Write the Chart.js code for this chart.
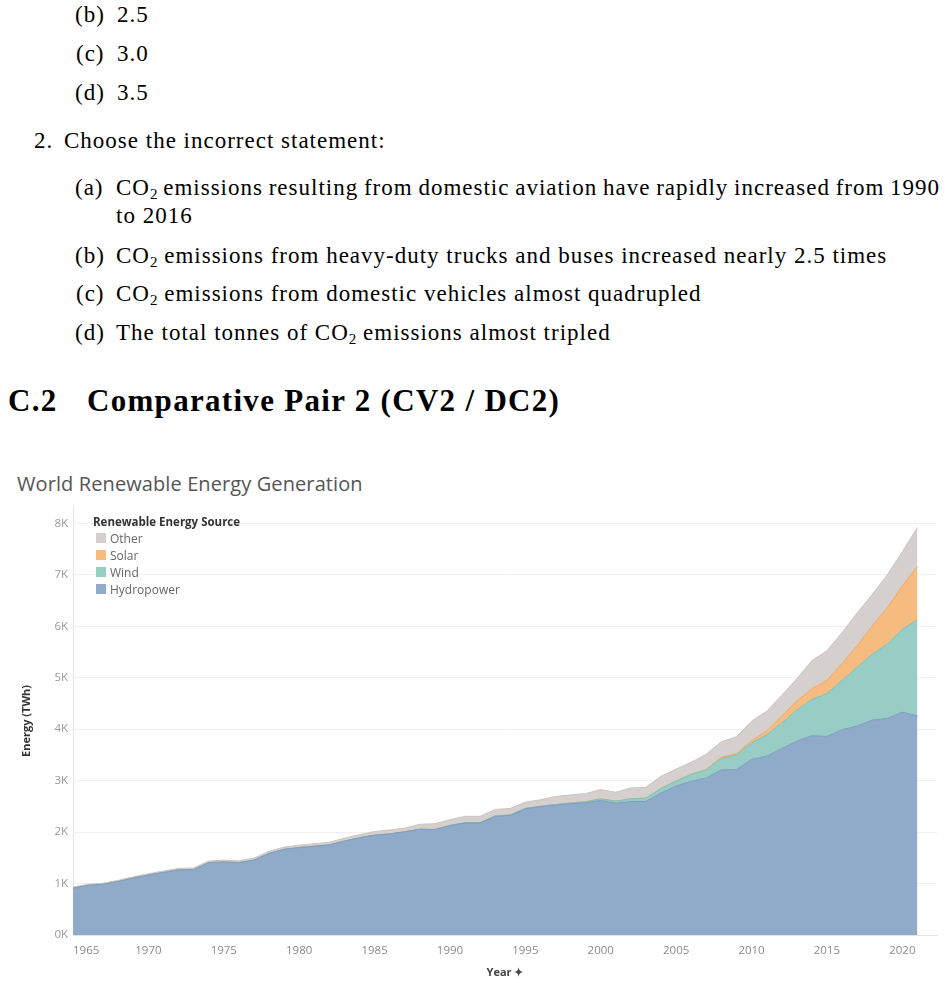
<!DOCTYPE html>
<html>
<head>
<meta charset="utf-8">
<script src="https://cdn.jsdelivr.net/npm/chart.js@4"></script>
<style>
  body { margin: 0; background: #fff; }
  #page { position: relative; width: 946px; height: 983px; overflow: hidden; background: #fff; }
  .t { position: absolute; font-family: "Liberation Serif", serif; font-size: 23px; line-height: 23px; letter-spacing: 1px; white-space: nowrap; color: #000; }
  .t sub { font-size: 15px; vertical-align: -4px; line-height: 0; letter-spacing: 0; }
  .h { font-weight: bold; font-size: 31px; line-height: 31px; letter-spacing: 1.3px; }
  #chartBox { position: absolute; left: 0; top: 495px; width: 946px; height: 488px; }
  #title { position: absolute; left: 17px; top: 470px; font-family: "Open Sans", sans-serif; font-size: 20px; letter-spacing: 0.1px; color: #555; white-space: nowrap; }
  #legend { position: absolute; left: 93px; top: 514px; font-family: "Open Sans", sans-serif; }
  #legend .lt { font-size: 11.5px; font-weight: bold; color: #333; line-height: 16px; }
  #legend .li { font-size: 12px; color: #666; line-height: 17px; height: 17px; position: relative; padding-left: 17px; }
  #legend .sw { position: absolute; left: 3px; top: 3px; width: 10px; height: 10px; }
</style>
</head>
<body>
<div id="page">
  <div class="t" style="left:75px;top:3px">(b)</div><div class="t" style="left:117px;top:3px">2.5</div>
  <div class="t" style="left:76px;top:42px">(c)</div><div class="t" style="left:117px;top:42px">3.0</div>
  <div class="t" style="left:75px;top:81px">(d)</div><div class="t" style="left:117px;top:81px">3.5</div>

  <div class="t" style="left:34px;top:129px">2.</div><div class="t" style="left:64px;top:129px">Choose the incorrect statement:</div>

  <div class="t" style="left:75px;top:176px">(a)</div><div class="t" style="left:116px;top:176px;word-spacing:-1px">CO<sub>2</sub> emissions resulting from domestic aviation have rapidly increased from 1990</div>
  <div class="t" style="left:116px;top:204px">to 2016</div>
  <div class="t" style="left:75px;top:244px">(b)</div><div class="t" style="left:116px;top:244px">CO<sub>2</sub> emissions from heavy-duty trucks and buses increased nearly 2.5 times</div>
  <div class="t" style="left:76px;top:282px">(c)</div><div class="t" style="left:116px;top:282px">CO<sub>2</sub> emissions from domestic vehicles almost quadrupled</div>
  <div class="t" style="left:75px;top:321px">(d)</div><div class="t" style="left:116px;top:321px">The total tonnes of CO<sub>2</sub> emissions almost tripled</div>

  <div class="t h" style="left:8px;top:385px">C.2</div><div class="t h" style="left:87px;top:385px">Comparative Pair 2 (CV2 / DC2)</div>

  <div id="title">World Renewable Energy Generation</div>
  <div id="chartBox"><canvas id="energyChart"></canvas></div>
  <div id="legend"></div>
</div>

<script>
// 연도 (1965 ~ 2021)
const years = [1965, 1966, 1967, 1968, 1969, 1970, 1971, 1972, 1973, 1974,
    1975, 1976, 1977, 1978, 1979, 1980, 1981, 1982, 1983, 1984,
    1985, 1986, 1987, 1988, 1989, 1990, 1991, 1992, 1993, 1994,
    1995, 1996, 1997, 1998, 1999, 2000, 2001, 2002, 2003, 2004,
    2005, 2006, 2007, 2008, 2009, 2010, 2011, 2012, 2013, 2014,
    2015, 2016, 2017, 2018, 2019, 2020, 2021];

// TWh
const hydro = [910, 965, 985, 1040, 1105, 1165, 1215, 1265, 1270, 1405,
    1420, 1405, 1455, 1585, 1665, 1700, 1725, 1750, 1825, 1890,
    1940, 1965, 2004, 2055, 2049, 2125, 2177, 2177, 2306, 2325,
    2453, 2492, 2524, 2550, 2569, 2614, 2563, 2595, 2595, 2761,
    2895, 2990, 3050, 3210, 3215, 3410, 3475, 3625, 3765, 3873,
    3860, 3990, 4060, 4175, 4210, 4330, 4260];
const wind = [0, 0, 0, 0, 0, 0, 0, 0, 0, 0,
    0, 0, 0, 0, 0, 0, 0, 0, 0, 0,
    0, 0, 0, 1, 2, 4, 4, 5, 6, 7,
    8, 10, 12, 16, 21, 31, 38, 52, 63, 85,
    95, 128, 161, 222, 285, 320, 415, 494, 605, 707,
    832, 960, 1140, 1284, 1442, 1615, 1862];
const solar = [0, 0, 0, 0, 0, 0, 0, 0, 0, 0,
    0, 0, 0, 0, 0, 0, 0, 0, 0, 0,
    0, 0, 0, 0, 0, 0, 0, 0, 0, 0,
    0, 0, 0, 0, 0, 1, 1, 2, 2, 3,
    4, 6, 8, 25, 22, 45, 77, 128, 174, 205,
    257, 321, 418, 547, 706, 835, 1041];
const other = [20, 21, 22, 24, 25, 27, 28, 30, 32, 33,
    35, 37, 39, 41, 43, 46, 49, 52, 56, 60,
    70, 77, 72, 96, 113, 112, 125, 124, 129, 128,
    121, 125, 155, 157, 159, 180, 173, 209, 211, 235,
    230, 235, 295, 300, 330, 380, 380, 410, 435, 545,
    575, 605, 640, 610, 640, 670, 757];

// 축 눈금
const xTicks = [1965, 1970, 1975, 1980, 1985, 1990, 1995, 2000, 2005, 2010, 2015, 2020];
const yTicks = [0, 1000, 2000, 3000, 4000, 5000, 6000, 7000, 8000];

const seriesNames = ["Hydropower", "Wind", "Solar", "Other"];
const seriesValues = [hydro, wind, solar, other];
const fillColors = ["#8fabc9", "#98cdc6", "#f6bb7e", "#d5d0cd"];
const lineColors = ["#7d9cc0", "#7fc0b7", "#eba867", "#cac4c1"];

const xMax = 2022.3;

// 범례 (위에서부터 Other → Hydropower)
const legend = document.getElementById('legend');
legend.innerHTML = '<div class="lt">Renewable Energy Source</div>';
for (let i = seriesNames.length - 1; i >= 0; i--) {
    legend.innerHTML += `<div class="li"><span class="sw" style="background:${fillColors[i]}"></span>${seriesNames[i]}</div>`;
}

const datasets = seriesNames.map((name, i) => ({
    label: name,
    data: years.map((yr, j) => ({ x: yr, y: seriesValues[i][j] })),
    backgroundColor: fillColors[i],
    borderColor: lineColors[i],
    borderWidth: 1,
    pointRadius: 0,
    tension: 0,
    fill: i === 0 ? 'origin' : '-1'
}));

const tickFont = { family: "'Open Sans', sans-serif", size: 11.5 };

new Chart(document.getElementById('energyChart'), {
    type: 'line',
    data: { datasets: datasets },
    options: {
        responsive: true,
        maintainAspectRatio: false,
        animation: false,
        layout: { padding: { left: 20, right: 6, top: 8, bottom: 4 } },
        plugins: {
            legend: { display: false },
            tooltip: { enabled: false }
        },
        scales: {
            x: {
                type: 'linear',
                min: 1965,
                max: xMax,
                afterBuildTicks: s => {
                    // 마지막에 빈 눈금을 둬서 'inner' 정렬이 1965만 안쪽으로 밀게
                    s.ticks = xTicks.map(v => ({ value: v })).concat([{ value: xMax }]);
                },
                grid: { display: false, drawTicks: false },
                border: { display: true, color: '#e4e4e4' },
                ticks: {
                    autoSkip: false,
                    maxRotation: 0,
                    align: 'inner',
                    padding: 9,
                    color: '#8a8a8a',
                    font: tickFont,
                    callback: v => (xTicks.includes(v) ? String(v) : '')
                },
                title: {
                    display: true,
                    text: 'Year \u2726',
                    color: '#444',
                    font: { family: "'Open Sans', sans-serif", size: 11, weight: 'bold' },
                    padding: { top: 2, bottom: 0 }
                },
                afterFit: s => { s.height = 44; }
            },
            y: {
                stacked: true,
                min: 0,
                max: 8320,
                afterBuildTicks: s => {
                    s.ticks = yTicks.map(v => ({ value: v }));
                },
                grid: { color: '#f0f0f0', drawTicks: false },
                border: { display: true, color: '#e4e4e4' },
                ticks: {
                    padding: 5,
                    color: '#9a9a9a',
                    font: tickFont,
                    callback: v => (v / 1000) + 'K'
                },
                title: {
                    display: true,
                    text: 'Energy (TWh)',
                    color: '#333',
                    font: { family: "'Open Sans', sans-serif", size: 11, weight: 'bold' },
                    padding: 0
                },
                afterFit: s => { s.width = 53; }
            }
        }
    }
});
</script>
</body>
</html>
